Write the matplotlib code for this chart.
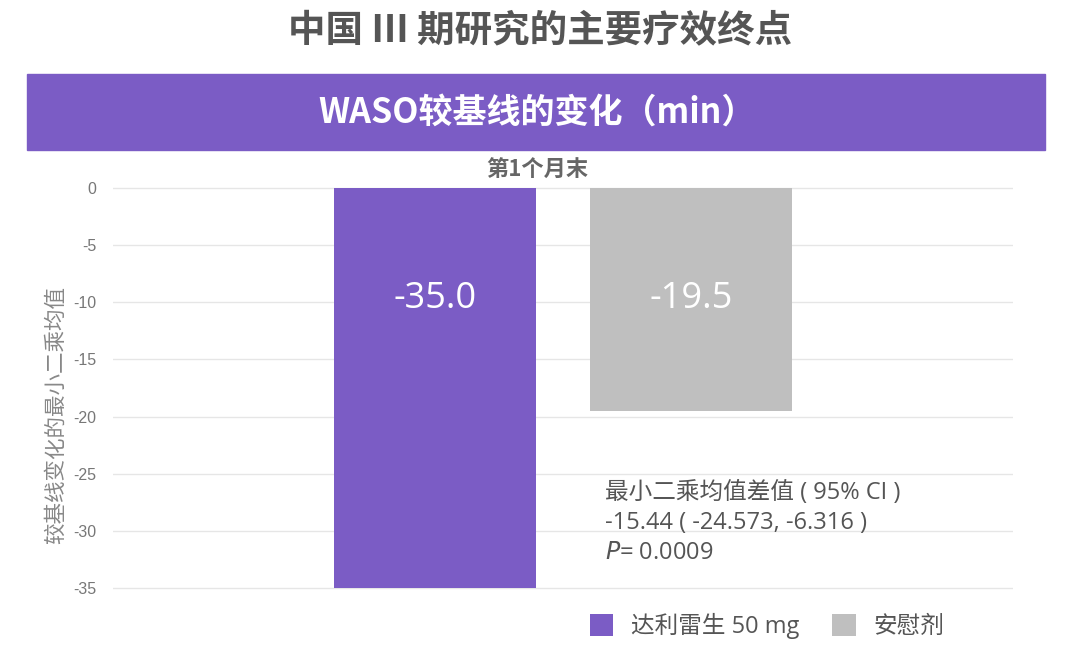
import matplotlib.pyplot as plt
from matplotlib.patches import Rectangle

plt.rcParams['font.family'] = ['Noto Sans CJK SC', 'DejaVu Sans']
latin = ['Open Sans', 'Noto Sans CJK SC']

# data
groups = ['达利雷生 50 mg', '安慰剂']
values = [-35.0, -19.5]
colors = ['#7B5CC5', '#BFBFBF']
yticks = [0, -5, -10, -15, -20, -25, -30, -35]
title = '中国 III 期研究的主要疗效终点'
banner = 'WASO较基线的变化（min）'
timepoint = '第1个月末'
ylabel = '较基线变化的最小二乘均值'
diff_lines = ['最小二乘均值差值 ( 95% CI )', '-15.44 ( -24.573, -6.316 )']
p_text = '= 0.0009'

W, H = 1080, 660
fig = plt.figure(figsize=(W / 100, H / 100), dpi=100)

def fx(px):
    return px / W

def fy(py):
    return 1 - py / H

# axes: 0 at y=188, -35 at y=588
pad = 0.2
ppu = 400 / 35
top = 188 - pad * ppu
bot = 588 + pad * ppu
ax = fig.add_axes([fx(113), fy(bot), fx(1013) - fx(113), (bot - top) / H])
ax.set_ylim(-35 - pad, pad)
ax.set_xlim(-1.258, 2.258)

x = [0, 1]
bars = ax.bar(x, values, width=0.79, color=colors, zorder=3)
for xi, v in zip(x, values):
    ax.text(xi, -9.7, f'{v:.1f}', ha='center', va='center', color='white',
            fontsize=26, family=latin, zorder=4)

ax.set_yticks(yticks)
ax.set_yticklabels([str(t) for t in yticks], family='Liberation Sans',
                   fontsize=11.5, color='#777777')
ax.tick_params(axis='y', length=0, pad=12)
ax.set_xticks([])
ax.grid(axis='y', color='#E6E6E6', linewidth=1, zorder=0)
for s in ax.spines.values():
    s.set_visible(False)

# titles
fig.text(0.5, fy(30), title, ha='center', va='center', fontsize=27,
         fontweight='bold', color='#555555')
fig.patches.append(Rectangle((fx(27), fy(150)), fx(1045) - fx(27), (150 - 74) / H,
                             transform=fig.transFigure, color='#7B5CC5', zorder=0))
fig.text(fx(537), fy(112), banner, ha='center', va='center', fontsize=24.5,
         fontweight='bold', color='white')
fig.text(fx(537), fy(170), timepoint, ha='center', va='center', fontsize=16,
         fontweight='bold', color='#666666')
fig.text(fx(56), fy(415), ylabel, ha='center', va='center', rotation=90,
         fontsize=15.5, color='#888888')

# annotation
for i, line in enumerate(diff_lines):
    fig.text(fx(605), fy(493 + 30 * i), line, ha='left', va='center',
             fontsize=17, family=latin, color='#555555')
fig.text(fx(605), fy(553), r'$\mathit{P}$' + p_text, ha='left', va='center',
         fontsize=17, family=latin, color='#555555')

# legend
fig.legend(bars, groups, loc='center', bbox_to_anchor=(fx(767), fy(626)), ncol=2,
           frameon=False, prop={'family': latin, 'size': 17}, labelcolor='#555555',
           handlelength=1.0, handleheight=1.0, handletextpad=0.75, columnspacing=1.4)

fig.savefig('out.png', dpi=100)
